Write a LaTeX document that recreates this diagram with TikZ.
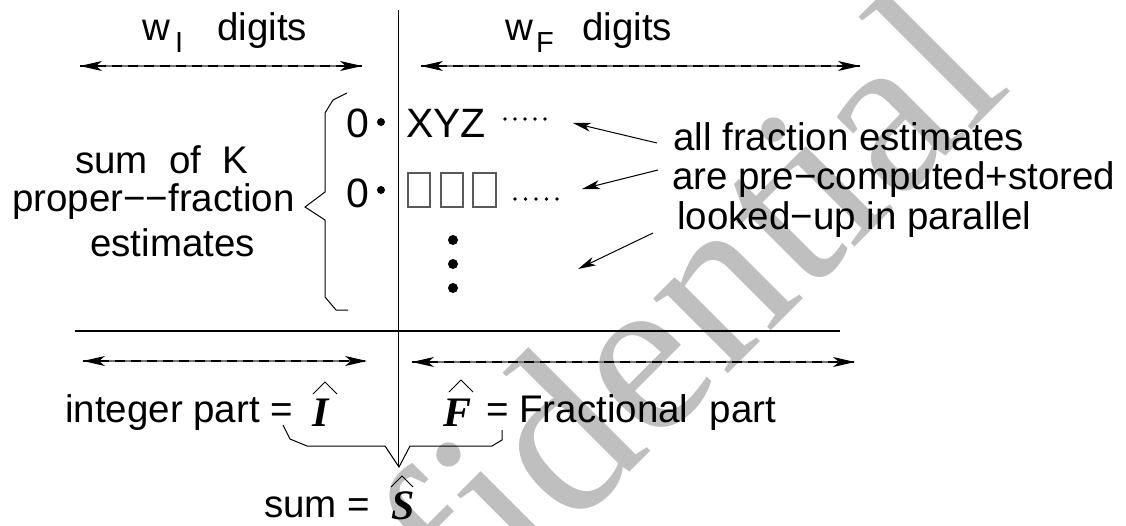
\documentclass[tikz,border=0pt]{standalone}
\usepackage{fontspec}
\setmainfont{Liberation Sans}
\newfontfamily\serifface{Liberation Serif}
\usetikzlibrary{arrows.meta}
\begin{document}
\begin{tikzpicture}[x=1pt,y=-1pt,
  txt/.style={font=\fontsize{38.5}{40}\selectfont, inner sep=0pt, anchor=base west},
  subtxt/.style={font=\fontsize{29}{30}\selectfont, inner sep=0pt, anchor=base west},
  midtxt/.style={font=\fontsize{41}{43}\selectfont, inner sep=0pt, anchor=base west},
  symtxt/.style={font=\fontsize{42}{44}\selectfont\serifface\bfseries\itshape, inner sep=0pt, anchor=base west},
  thinline/.style={line width=1pt, line join=miter},
  dimline/.style={line width=1.1pt, draw=black!55, {Stealth[length=22pt,width=10pt,inset=6pt,black]}-{Stealth[length=22pt,width=10pt,inset=6pt,black]},
    postaction={draw=black, dash pattern=on 10pt off 6pt, arrows=-}},
  pointer/.style={line width=1pt, -{Stealth[length=18pt,width=9pt,inset=5pt]}},
  hatline/.style={line width=0.9pt},
  glyphbox/.style={draw=black!65, line width=1.2pt},
  watermark/.style={font=\fontsize{230}{230}\selectfont\serifface, text=black!25, inner sep=0pt}
]
\path[use as bounding box] (0,0) rectangle (1126,525);

% background watermark
\node[watermark, rotate=45, anchor=base east] (wm) at (1014,88) {confidential};

% column divider and summation rule
\coordinate (vtop) at (398,10);
\coordinate (vbot) at (398,466);
\draw[thinline] (vtop) -- (vbot);
\coordinate (hl) at (75,331);
\coordinate (hr) at (840,331);
\draw[line width=2pt] (hl) -- (hr);

% digit-width labels
\node[txt] (wI) at (142,40) {w};
\node[subtxt] (subI) at (175,52) {I};
\node[txt] (digI) at (217,40) {digits};
\node[txt] (wF) at (505,40) {w};
\node[subtxt] (subF) at (536,52) {F};
\node[txt] (digF) at (582,40) {digits};

% width arrows (top)
\coordinate (tl1) at (80,66);  \coordinate (tl2) at (362,66);
\coordinate (tr1) at (421,66); \coordinate (tr2) at (860,66);
\draw[dimline] (tl1) -- (tl2);
\draw[dimline] (tr1) -- (tr2);

% left description and brace
\node[txt] (sumK) at (75,173) {sum\ \ of\ \ K};
\node[txt] (prop) at (12,211) {proper−−fraction};
\node[txt] (est) at (90,256) {estimates};
\draw[thinline] (347,93) -- (333,100) -- (325,113) -- (325,192) -- (305,207)
  -- (325,220) -- (325,297) -- (336,310) -- (348,310);

% rows of estimates
\node[midtxt] (z1) at (346,137) {0};
\fill (381,122) circle[radius=4pt];
\node[midtxt] (xyz) at (406,137) {XYZ};
\foreach \x in {505,515,525,535,545} \fill (\x,119) circle[radius=1.8pt];

\node[midtxt] (z2) at (346,207) {0};
\fill (381,190) circle[radius=4pt];
\draw[glyphbox] (408,173) rectangle (430,207);
\draw[glyphbox] (441,173) rectangle (463,207);
\draw[glyphbox] (473,173) rectangle (496,207);
\foreach \x in {515,525.5,536,546.5,557} \fill (\x,199) circle[radius=1.8pt];

\foreach \y in {240,264,288} \fill (453,\y) circle[radius=5pt];

% explanation with pointers
\node[txt] (n1) at (673,150) {all fraction estimates};
\node[txt] (n2) at (672,189) {are pre−computed+stored};
\node[txt] (n3) at (677,229) {looked−up in parallel};
\coordinate (p1a) at (657,143); \coordinate (p1b) at (573,123);
\coordinate (p2a) at (658,170); \coordinate (p2b) at (582,189);
\coordinate (p3a) at (653,233); \coordinate (p3b) at (578,269);
\draw[pointer] (p1a) -- (p1b);
\draw[pointer] (p2a) -- (p2b);
\draw[pointer] (p3a) -- (p3b);

% width arrows (bottom)
\coordinate (bl1) at (83,361);  \coordinate (bl2) at (367,361);
\coordinate (br1) at (412,362); \coordinate (br2) at (855,362);
\draw[dimline] (bl1) -- (bl2);
\draw[dimline] (br1) -- (br2);

% integer and fractional parts
\node[txt] (ipart) at (65,422) {integer part =};
\node[symtxt] (Ihat) at (312,426) {I};
\draw[hatline] (313,394) -- (325,382) -- (337,394);
\node[symtxt] (Fhat) at (443,426) {F};
\draw[hatline] (449,392) -- (461,380) -- (473,392);
\node[txt] (fpart) at (486,422) {= Fractional\ \ part};

% joining brace and total
\draw[thinline] (283,425) -- (290,439) -- (307,446) -- (385,446) -- (399,467)
  -- (410,446) -- (492,446) -- (502,440) -- (502,430);
\node[txt] (sumlbl) at (264,517) {sum =};
\node[symtxt] (Shat) at (391,519) {S};
\draw[hatline] (391,487) -- (402,476) -- (413,487);
\end{tikzpicture}
\end{document}
